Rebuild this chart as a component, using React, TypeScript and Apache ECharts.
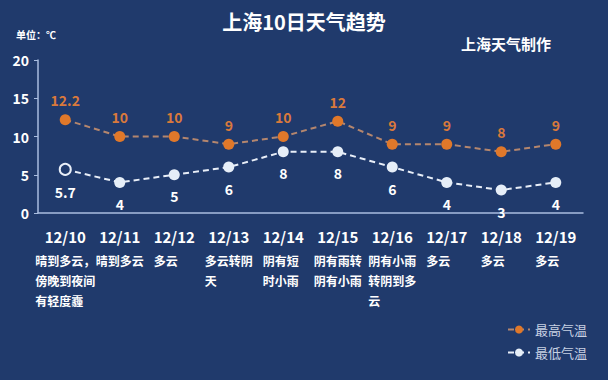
import React, { useEffect, useRef } from "react";
import * as echarts from "echarts";

const dates = ["12/10", "12/11", "12/12", "12/13", "12/14", "12/15", "12/16", "12/17", "12/18", "12/19"];
const weather = [
  "晴到多云，\n傍晚到夜间\n有轻度霾",
  "晴到多云",
  "多云",
  "多云转阴\n天",
  "阴有短\n时小雨",
  "阴有雨转\n阴有小雨",
  "阴有小雨\n转阴到多\n云",
  "多云",
  "多云",
  "多云",
];
const highTemps = [12.2, 10, 10, 9, 10, 12, 9, 9, 8, 9];
const lowTemps = [5.7, 4, 5, 6, 8, 8, 6, 4, 3, 4];
const yTicks = { min: 0, max: 20, interval: 5 };

const BG = "#203a6c";
const FONT = "'Noto Sans CJK SC', 'Noto Sans', sans-serif";

export default function App() {
  const ref = useRef<HTMLDivElement>(null);
  useEffect(() => {
    document.body.style.margin = "0";
    document.body.style.background = BG;
    if (!ref.current) return;
    const chart = echarts.init(ref.current, undefined, { renderer: "svg" });
    chart.setOption({
      animation: false,
      backgroundColor: BG,
      textStyle: { fontFamily: FONT },
      title: [
        {
          text: "上海10日天气趋势",
          left: "center",
          top: 6,
          textStyle: { color: "#ffffff", fontSize: 20, fontWeight: "bold", fontFamily: FONT },
        },
        {
          text: "上海天气制作",
          left: 456,
          top: 31,
          textStyle: { color: "#ffffff", fontSize: 15, fontWeight: "bold", fontFamily: FONT },
        },
        {
          text: "单位：℃",
          left: 11,
          top: 24,
          textStyle: { color: "#ffffff", fontSize: 10, fontWeight: "bold", fontFamily: FONT },
        },
      ],
      legend: {
        orient: "vertical",
        right: 16,
        top: 318,
        itemWidth: 22,
        itemHeight: 10,
        itemGap: 10,
        textStyle: { color: "#c9d2e3", fontSize: 13, fontFamily: FONT },
        data: ["最高气温", "最低气温"],
      },
      grid: { left: 38, right: 25, top: 60, bottom: 167, containLabel: false },
      xAxis: {
        type: "category",
        data: dates,
        boundaryGap: true,
        axisLine: { lineStyle: { color: "#a9bde0", width: 1.5 } },
        axisTick: { show: false },
        axisLabel: {
          interval: 0,
          margin: 9,
          color: "#ffffff",
          formatter: (value: string, idx: number) => {
            const lines = weather[idx].split("\n").map((l) => `{w|${l}}`).join("\n");
            return `{d|${value}}\n${lines}`;
          },
          rich: {
            d: {
              fontSize: 15,
              fontWeight: "bold",
              color: "#ffffff",
              lineHeight: 28,
              align: "center",
              fontFamily: FONT,
            },
            w: {
              fontSize: 12,
              fontWeight: "bold",
              color: "#ffffff",
              lineHeight: 20,
              align: "left",
              fontFamily: FONT,
            },
          },
        },
      },
      yAxis: {
        type: "value",
        min: yTicks.min,
        max: yTicks.max,
        interval: yTicks.interval,
        splitLine: { show: false },
        axisLine: { show: true, lineStyle: { color: "#a9bde0", width: 1.5 } },
        axisTick: { show: true, length: 4, lineStyle: { color: "#a9bde0" } },
        axisLabel: { color: "#ffffff", fontSize: 14, fontWeight: "bold", margin: 9, fontFamily: FONT },
      },
      series: [
        {
          name: "最高气温",
          type: "line",
          data: highTemps,
          symbol: "circle",
          symbolSize: 11,
          itemStyle: { color: "#e0782a" },
          lineStyle: { color: "#b4866e", width: 2, type: [6, 4] },
          label: {
            show: true,
            position: "top",
            distance: 7,
            color: "#d9793c",
            fontSize: 14,
            fontWeight: "bold",
            fontFamily: FONT,
          },
        },
        {
          name: "最低气温",
          type: "line",
          data: lowTemps.map((v, i) =>
            i === 0
              ? { value: v, itemStyle: { color: BG, borderColor: "#e8eef8", borderWidth: 2 } }
              : v
          ),
          symbol: "circle",
          symbolSize: 11,
          itemStyle: { color: "#e6eef8" },
          lineStyle: { color: "#e8eef8", width: 2, type: [6, 4] },
          label: {
            show: true,
            position: "bottom",
            distance: 9,
            color: "#ffffff",
            fontSize: 14,
            fontWeight: "bold",
            fontFamily: FONT,
          },
        },
      ],
    });
    return () => chart.dispose();
  }, []);
  return <div ref={ref} style={{ width: 608, height: 380 }} />;
}
